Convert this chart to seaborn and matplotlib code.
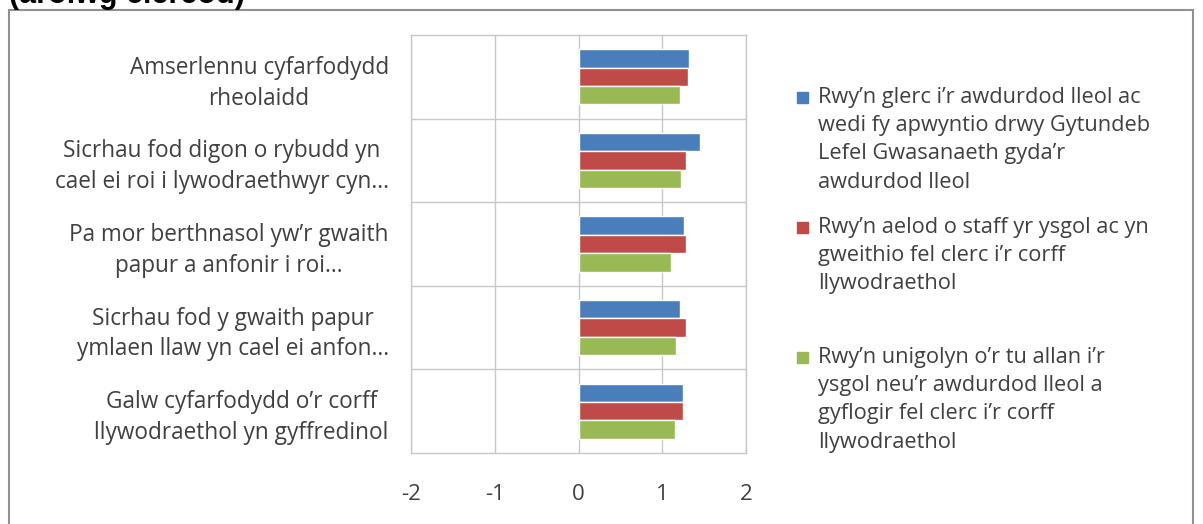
import matplotlib
matplotlib.use("Agg")
import matplotlib.pyplot as plt
import matplotlib.patches as mpatches
import pandas as pd
import seaborn as sns

# Survey items (agreement scores, -2..2)
categories = [
    "Amserlennu cyfarfodydd\nrheolaidd",
    "Sicrhau fod digon o rybudd yn\ncael ei roi i lywodraethwyr cyn...",
    "Pa mor berthnasol yw\u2019r gwaith\npapur a anfonir i roi...",
    "Sicrhau fod y gwaith papur\nymlaen llaw yn cael ei anfon...",
    "Galw cyfarfodydd o\u2019r corff\nllywodraethol yn gyffredinol",
]

series_names = [
    "Rwy\u2019n glerc i\u2019r awdurdod lleol ac\nwedi fy apwyntio drwy Gytundeb\nLefel Gwasanaeth gyda\u2019r\nawdurdod lleol",
    "Rwy\u2019n aelod o staff yr ysgol ac yn\ngweithio fel clerc i\u2019r corff\nllywodraethol",
    "Rwy\u2019n unigolyn o\u2019r tu allan i\u2019r\nysgol neu\u2019r awdurdod lleol a\ngyflogir fel clerc i\u2019r corff\nllywodraethol",
]

clerc_awdurdod = [1.32, 1.45, 1.26, 1.21, 1.25]
staff_ysgol = [1.31, 1.28, 1.28, 1.28, 1.25]
unigolyn_allan = [1.21, 1.22, 1.11, 1.16, 1.15]

x_ticks = [-2, -1, 0, 1, 2]

colors = ["#4a7ebb", "#be4b48", "#98b954"]

df = pd.DataFrame({
    "item": categories * 3,
    "series": [series_names[0]] * 5 + [series_names[1]] * 5 + [series_names[2]] * 5,
    "score": clerc_awdurdod + staff_ysgol + unigolyn_allan,
})

sns.set_style("white")
plt.rcParams["font.family"] = ["Open Sans", "DejaVu Sans"]
TEXT = "#404040"
W, H = 1203, 524

fig = plt.figure(figsize=(W / 100, H / 100), dpi=100)
ax = fig.add_axes([411 / W, 1 - 453 / H, (746 - 411) / W, (453 - 35) / H])

sns.barplot(data=df, y="item", x="score", hue="series", order=categories,
            hue_order=series_names, palette=colors, orient="h",
            width=0.66, saturation=1, ax=ax, legend=False)

ax.set_xlim(-2, 2)
ax.set_xticks(x_ticks)
ax.set_xticklabels([str(t) for t in x_ticks], fontsize=16, color=TEXT)
ax.tick_params(axis="x", length=0, pad=22)
ax.tick_params(axis="y", length=0, pad=16)
ax.set_ylim(4.5, -0.5)
for lbl in ax.get_yticklabels():
    lbl.set_fontsize(16.3)
    lbl.set_color(TEXT)
    lbl.set_multialignment("center")
    lbl.set_linespacing(1.38)
ax.set_xlabel("")
ax.set_ylabel("")

# Grid: vertical at ticks, horizontal between categories
for t in x_ticks:
    ax.axvline(t, color="#c8c8c8", lw=1, zorder=0)
for b in [0.5, 1.5, 2.5, 3.5]:
    ax.axhline(b, color="#c8c8c8", lw=1, zorder=0)
for s in ax.spines.values():
    s.set_color("#c8c8c8")
    s.set_linewidth(1)

# Legend: square key aligned with the first line of each wrapped entry
entry_tops = [97, 227, 357]
line_step = 28.5
for name, color, top in zip(series_names, colors, entry_tops):
    fig.patches.append(mpatches.Rectangle((797 / W, 1 - (top + 5.5) / H), 11 / W, 11 / H,
                                          transform=fig.transFigure, color=color))
    for i, line in enumerate(name.split("\n")):
        fig.text(818 / W, 1 - (top + i * line_step) / H, line, fontsize=15.7,
                 color=TEXT, ha="left", va="center")

# Chart frame and heading
fig.patches.append(mpatches.Rectangle((9 / W, -0.1), (1193 - 9) / W, 1.1 - 10 / H,
                                      transform=fig.transFigure, fill=False,
                                      edgecolor="#909090", lw=1.5))
fig.text(9 / W, 1 - 3 / H, "(arolwg clercod)", fontsize=22, fontweight="bold",
         family=["Liberation Sans", "DejaVu Sans"], va="baseline", ha="left", color="black")

fig.savefig("out.png", dpi=100, facecolor="white")
